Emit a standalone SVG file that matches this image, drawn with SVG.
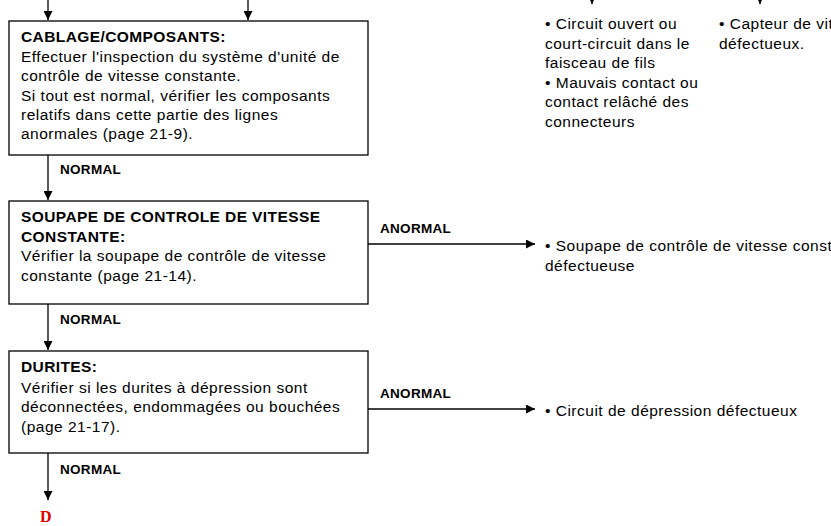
<svg xmlns="http://www.w3.org/2000/svg" width="831" height="526" viewBox="0 0 831 526">
<style>
text{font-family:"Liberation Sans",Arial,sans-serif;font-size:15.5px;letter-spacing:0.5px;fill:#000}
.b{font-weight:bold;letter-spacing:0.4px}
.l{font-weight:bold;font-size:13.5px;letter-spacing:0.3px}
rect{fill:#fff;stroke:#000;stroke-width:1.3}
line{stroke:#000;stroke-width:1.3}
</style>
<defs><marker id="a" viewBox="0 0 10 10" refX="10" refY="5" markerWidth="9" markerHeight="9" markerUnits="userSpaceOnUse" orient="auto"><path d="M0,0L10,5L0,10z" fill="#000"/></marker></defs>
<rect width="831" height="526" style="stroke:none"/>
<g id="connectors">
<line x1="48" y1="0" x2="48" y2="20" marker-end="url(#a)"/>
<line x1="248" y1="0" x2="248" y2="20" marker-end="url(#a)"/>
<line x1="592" y1="0" x2="592" y2="4" marker-end="url(#a)"/>
<line x1="760" y1="0" x2="760" y2="4" marker-end="url(#a)"/>
<line x1="48" y1="155" x2="48" y2="200" marker-end="url(#a)"/>
<text class="l" x="60" y="174">NORMAL</text>
<line x1="48" y1="304" x2="48" y2="350" marker-end="url(#a)"/>
<text class="l" x="60" y="324">NORMAL</text>
<line x1="48" y1="453" x2="48" y2="500" marker-end="url(#a)"/>
<text class="l" x="60" y="474">NORMAL</text>
<line x1="368" y1="244" x2="535" y2="244" marker-end="url(#a)"/>
<text class="l" x="380" y="233">ANORMAL</text>
<line x1="368" y1="409" x2="535" y2="409" marker-end="url(#a)"/>
<text class="l" x="380" y="398">ANORMAL</text>
</g>
<g id="box1"><rect x="9" y="21" width="359" height="134"/>
<text class="b" x="21" y="42">CABLAGE/COMPOSANTS:</text>
<text x="21" y="62">Effectuer l'inspection du système d'unité de</text>
<text x="21" y="81">contrôle de vitesse constante.</text>
<text x="21" y="101">Si tout est normal, vérifier les composants</text>
<text x="21" y="120">relatifs dans cette partie des lignes</text>
<text x="21" y="139">anormales (page 21-9).</text></g>
<g id="box2"><rect x="9" y="201" width="359" height="103"/>
<text class="b" x="21" y="222">SOUPAPE DE CONTROLE DE VITESSE</text>
<text class="b" x="21" y="242">CONSTANTE:</text>
<text x="21" y="261">Vérifier la soupape de contrôle de vitesse</text>
<text x="21" y="281">constante (page 21-14).</text></g>
<g id="box3"><rect x="9" y="351" width="359" height="102"/>
<text class="b" x="21" y="372">DURITES:</text>
<text x="21" y="393">Vérifier si les durites à dépression sont</text>
<text x="21" y="412">déconnectées, endommagées ou bouchées</text>
<text x="21" y="432">(page 21-17).</text></g>
<g id="r1"><text x="545" y="29">• Circuit ouvert ou</text>
<text x="545" y="49">court-circuit dans le</text>
<text x="545" y="68">faisceau de fils</text>
<text x="545" y="88">• Mauvais contact ou</text>
<text x="545" y="107">contact relâché des</text>
<text x="545" y="127">connecteurs</text></g>
<g id="r2"><text x="719" y="29">• Capteur de vitesse</text>
<text x="719" y="49">défectueux.</text></g>
<g id="r3"><text x="545" y="251">• Soupape de contrôle de vitesse constante</text>
<text x="545" y="271">défectueuse</text></g>
<g id="r4"><text x="545" y="416">• Circuit de dépression défectueux</text></g>
<g id="D"><text x="40" y="522" style="font-family:'Liberation Serif',serif;font-weight:bold;font-size:16px;letter-spacing:0;fill:#e00000">D</text></g>
</svg>
